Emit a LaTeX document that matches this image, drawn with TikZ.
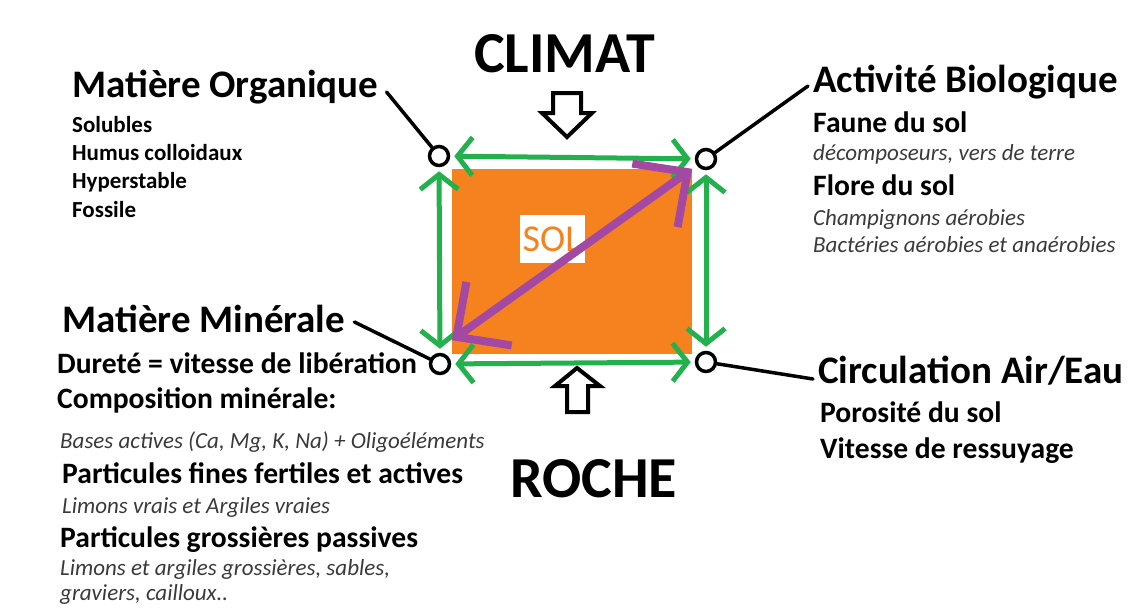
\documentclass[tikz,border=0pt]{standalone}
\usepackage{fontspec}
\setmainfont{Carlito}
\usetikzlibrary{arrows.meta}
\definecolor{solorange}{HTML}{F5821F}
\definecolor{paintgreen}{HTML}{22B14C}
\definecolor{paintpurple}{HTML}{A349A4}
\definecolor{notegray}{HTML}{3A3A3A}
\tikzset{
  bigtitle/.style={anchor=base west, inner sep=0pt, font=\bfseries\fontsize{58}{66}\selectfont},
  heading/.style={anchor=base west, inner sep=0pt, font=\bfseries\fontsize{39}{46}\selectfont},
  subtitle/.style={anchor=base west, inner sep=0pt, font=\bfseries\fontsize{29.6}{34}\selectfont},
  itemtext/.style={anchor=base west, inner sep=0pt, font=\bfseries\fontsize{23}{28}\selectfont},
  note/.style={anchor=base west, inner sep=0pt, text=notegray, font=\itshape\fontsize{23}{28}\selectfont},
  corner/.style={circle, draw=black, line width=3.5pt, fill=white, minimum size=19pt, inner sep=0pt},
  leader/.style={draw=black, line width=3.5pt, line cap=round},
  exchange/.style={draw=paintgreen, line width=5pt, shorten <=4pt, shorten >=4pt,
    {Straight Barb[length=15pt,width=38pt]}-{Straight Barb[length=15pt,width=38pt]}},
  flux/.style={draw=paintpurple, line width=8pt,
    {Straight Barb[length=40pt,width=78pt]}-{Straight Barb[length=40pt,width=78pt]}},
  blockarrow/.style={draw=black, fill=white, line width=4pt, line join=miter}
}
\begin{document}
\begin{tikzpicture}[x=1pt,y=-1pt]
\useasboundingbox (0,0) rectangle (1131,608);

% le sol
\node[fill=solorange, minimum width=240pt, minimum height=185pt, inner sep=0pt] (soil) at (572,261.5) {};
\node[fill=white, text=solorange, minimum width=65pt, minimum height=48pt, inner sep=0pt,
  font=\fontsize{38}{42}\selectfont] (sollabel) at (552,239) {SOL};

% les quatre pôles
\node[corner] (tl) at (439,156) {};
\node[corner] (tr) at (706,159) {};
\node[corner] (bl) at (440,364) {};
\node[corner] (br) at (706,362) {};

\draw[exchange] (tl) -- (tr);
\draw[exchange] (tr) -- (br);
\draw[exchange] (br) -- (bl);
\draw[exchange] (bl) -- (tl);
\draw[flux] ([yshift=14pt]soil.south west) -- (soil.north east);

% climat et roche
\node[bigtitle] (climat) at (474,72) {CLIMAT};
\draw[blockarrow] (553,93) -- (581,93) -- (581,113) -- (592,113) -- (567,137) -- (542,113) -- (553,113) -- cycle;
\node[bigtitle] (roche) at (510,497) {ROCHE};
\draw[blockarrow] (567,412) -- (588,412) -- (588,386) -- (600,386) -- (577,368) -- (555,386) -- (567,386) -- cycle;

% matière organique
\node[heading] (mo) at (72,97) {Matière Organique};
\node[itemtext] (mo1) at (72,132) {Solubles};
\node[itemtext] (mo2) at (72,160) {Humus colloidaux};
\node[itemtext] (mo3) at (72,188) {Hyperstable};
\node[itemtext] (mo4) at (72,217) {Fossile};
\draw[leader] ([xshift=8pt,yshift=5pt]mo.base east) -- (tl);

% activité biologique
\node[heading] (ab) at (813,92) {Activité Biologique};
\node[subtitle] (ab1) at (813,132) {Faune du sol};
\node[note] (ab2) at (813,160) {décomposeurs, vers de terre};
\node[subtitle] (ab3) at (813,195) {Flore du sol};
\node[note] (ab4) at (813,225) {Champignons aérobies};
\node[note] (ab5) at (813,252) {Bactéries aérobies et anaérobies};
\draw[leader] ([xshift=-5pt,yshift=6pt]ab.base west) -- (tr);

% matière minérale
\node[heading] (mm) at (62,332) {Matière Minérale};
\node[subtitle] (mm1) at (57,373) {Dureté = vitesse de libération};
\node[subtitle] (mm2) at (57,408) {Composition minérale:};
\node[note] (mm3) at (60,448) {Bases actives (Ca, Mg, K, Na) + Oligoéléments};
\node[subtitle] (mm4) at (62,483) {Particules fines fertiles et actives};
\node[note] (mm5) at (62,513) {Limons vrais et Argiles vraies};
\node[subtitle] (mm6) at (60,547) {Particules grossières passives};
\node[note] (mm7) at (60,575) {Limons et argiles grossières, sables,};
\node[note] (mm8) at (60,600) {graviers, cailloux..};
\draw[leader] ([xshift=9pt,yshift=10pt]mm.base east) -- (bl);

% circulation air/eau
\node[heading] (ca) at (818,383) {Circulation Air/Eau};
\node[subtitle] (ca1) at (820,422) {Porosité du sol};
\node[subtitle] (ca2) at (820,458) {Vitesse de ressuyage};
\draw[leader] ([xshift=-5pt,yshift=4pt]ca.base west) -- (br);
\end{tikzpicture}
\end{document}
